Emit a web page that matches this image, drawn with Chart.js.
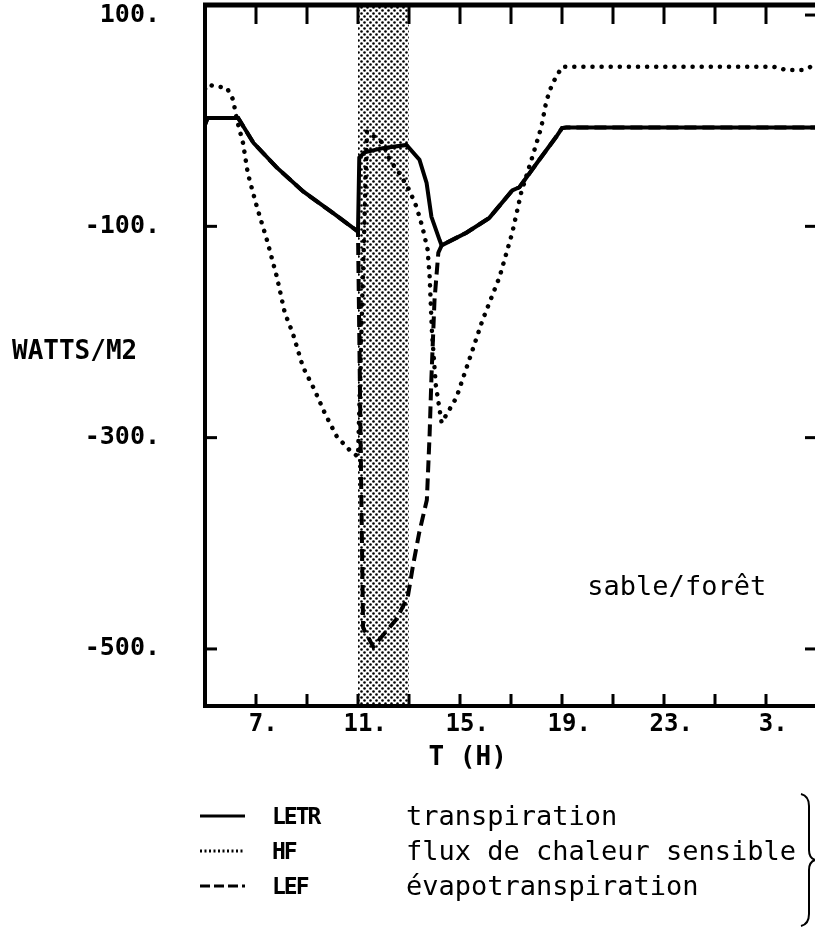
<!DOCTYPE html>
<html>
<head>
<meta charset="utf-8">
<script src="https://cdn.jsdelivr.net/npm/chart.js@4.4.0/dist/chart.umd.min.js"></script>
<style>
  html, body { margin: 0; padding: 0; background: #fff; overflow: hidden; }
  #wrap { position: relative; width: 815px; height: 930px; overflow: hidden; }
  #flux-chart { position: absolute; left: 0; top: 0; }
  #legend { position: absolute; left: 0; top: 0; width: 815px; height: 930px; pointer-events: none; }
  .row { position: absolute; left: 0; width: 815px; height: 36px; }
  .row svg { position: absolute; left: 198px; top: 15px; }
  .code { position: absolute; left: 272px; top: 0; font: bold 23px "DejaVu Sans Mono", monospace; letter-spacing: -2px; line-height: 36px; }
  .name { position: absolute; left: 406px; top: 0; font: 27px "DejaVu Sans Mono", monospace; line-height: 36px; white-space: pre; }
  #brace { position: absolute; left: 797px; top: 792px; }
</style>
</head>
<body>
<div id="wrap">
  <canvas id="flux-chart" width="830" height="930"></canvas>
  <div id="legend"></div>
</div>
<script>
// heures (T) et flux (W/m2)
const letrHours  = [5.0, 5.1, 6.3, 6.9, 7.8, 8.85, 10.0, 11.0, 11.05, 11.26, 11.97, 12.9, 13.41, 13.69, 13.88, 14.2, 14.28, 15.25, 16.15, 17.05, 17.33, 18.11, 18.78, 19.0, 19.17, 29.0];
const letrValues = [-4, 2.5, 2.5, -21, -44, -67, -87, -105, -35, -30, -26, -23, -37, -59, -91, -113, -118, -106, -92, -66, -63, -37, -15, -7, -6.5, -6.5];

const hfHours  = [5.0, 5.1, 5.86, 6.1, 6.25, 6.49, 6.68, 7.04, 7.43, 7.82, 8.13, 8.44, 8.84, 9.3, 9.7, 10.17, 10.68, 11.0, 11.35, 11.97, 12.24, 12.63, 13.02, 13.3, 13.53, 13.73, 13.81, 13.9, 14.05, 14.28, 14.86, 15.45, 15.88, 16.55, 17.05, 17.4, 17.84, 18.19, 18.39, 18.62, 19.0, 27.3, 27.8, 28.4, 29.0];
const hfValues = [30, 34, 31, 20, 1, -21, -50, -82, -113, -148, -182, -201, -233, -255, -277, -299, -312, -318, -10, -21, -37, -50, -66, -82, -101, -122, -148, -200, -250, -286, -262, -220, -189, -148, -106, -68, -34, -6, 19, 35, 51, 51, 48, 48, 53];

const lefHours  = [5.0, 5.1, 6.3, 6.9, 7.8, 8.85, 10.0, 11.0, 11.1, 11.2, 11.6, 12.5, 12.95, 13.15, 13.4, 13.7, 13.81, 13.88, 14.0, 14.15, 14.28, 15.25, 16.15, 17.05, 17.33, 18.11, 18.78, 19.0, 19.17, 29.0];
const lefValues = [-4, 2.5, 2.5, -21, -44, -67, -87, -105, -300, -480, -498, -472, -451, -422, -390, -359, -296, -243, -170, -125, -118, -106, -92, -66, -63, -37, -15, -7, -6.5, -6.5];

// période ombrée (h)
const bandHours = [11, 13];

const xTickHours  = [7, 9, 11, 13, 15, 17, 19, 21, 23, 25, 27];
const xLabelHours = [7, 11, 15, 19, 23, 27];
const yTickValues = [100, -100, -300, -500];

const legendCodes = ['LETR', 'HF', 'LEF'];
const legendNames = ['transpiration', 'flux de chaleur sensible', 'évapotranspiration'];

const yMin = -554, yMax = 109.5;
const mono = '"DejaVu Sans Mono", monospace';

const pts = (hs, vs) => hs.map((h, i) => ({ x: h, y: vs[i] }));

// trame en pointillé pour la bande 11h-13h
function dotPattern() {
  const c = document.createElement('canvas');
  c.width = 6; c.height = 6;
  const g = c.getContext('2d');
  g.fillStyle = '#000';
  g.beginPath(); g.arc(1.5, 1.5, 1.3, 0, Math.PI * 2); g.fill();
  g.beginPath(); g.arc(4.5, 4.5, 1.3, 0, Math.PI * 2); g.fill();
  return document.createElement('canvas').getContext('2d').createPattern(c, 'repeat');
}

const framePlugin = {
  id: 'frame',
  afterDraw(chart) {
    const { ctx, chartArea: a, scales: { x, y } } = chart;
    ctx.save();
    ctx.strokeStyle = '#000';
    ctx.lineWidth = 5;
    ctx.beginPath(); ctx.moveTo(a.left - 2, a.top); ctx.lineTo(a.right, a.top); ctx.stroke();

    ctx.lineWidth = 3;
    xTickHours.forEach(h => {
      const px = x.getPixelForValue(h);
      ctx.beginPath(); ctx.moveTo(px, a.top); ctx.lineTo(px, a.top + 19); ctx.stroke();
      ctx.beginPath(); ctx.moveTo(px, a.bottom); ctx.lineTo(px, a.bottom - 12); ctx.stroke();
    });
    yTickValues.forEach((v, i) => {
      const py = y.getPixelForValue(v);
      if (i > 0) {
        ctx.beginPath(); ctx.moveTo(a.left, py); ctx.lineTo(a.left + 12, py); ctx.stroke();
      }
      ctx.beginPath(); ctx.moveTo(a.right, py); ctx.lineTo(a.right - 12, py); ctx.stroke();
    });

    ctx.fillStyle = '#000';
    ctx.textBaseline = 'middle';
    ctx.textAlign = 'left';
    ctx.font = 'bold 26px ' + mono;
    ctx.fillText('WATTS/M2', 12, y.getPixelForValue(-219));
    ctx.textAlign = 'center';
    ctx.fillText('T (H)', x.getPixelForValue(15.3), a.bottom + 52);

    ctx.font = '27px ' + mono;
    ctx.fillText('sable/forêt', x.getPixelForValue(23.5), y.getPixelForValue(-442));
    ctx.restore();
  }
};

const ctx = document.getElementById('flux-chart').getContext('2d');
const chart = new Chart(ctx, {
  type: 'line',
  data: {
    datasets: [
      {
        label: 'LETR',
        data: pts(letrHours, letrValues),
        borderColor: '#000',
        borderWidth: 4,
        pointRadius: 0,
        tension: 0
      },
      {
        label: 'HF',
        data: pts(hfHours, hfValues),
        borderColor: '#000',
        borderWidth: 4.5,
        borderDash: [0.1, 9],
        borderCapStyle: 'round',
        pointRadius: 0,
        tension: 0
      },
      {
        label: 'LEF',
        data: pts(lefHours, lefValues),
        borderColor: '#000',
        borderWidth: 4,
        borderDash: [12, 6],
        pointRadius: 0,
        tension: 0
      },
      {
        label: 'bande',
        data: bandHours.map(h => ({ x: h, y: yMax })),
        borderWidth: 0,
        pointRadius: 0,
        backgroundColor: dotPattern(),
        fill: 'start'
      }
    ]
  },
  options: {
    responsive: false,
    animation: false,
    devicePixelRatio: 1,
    layout: { padding: { top: 5, right: 13, left: 0, bottom: 0 } },
    plugins: { legend: { display: false }, tooltip: { enabled: false } },
    scales: {
      x: {
        type: 'linear',
        min: 5,
        max: 29,
        afterFit: s => { s.height = 224; s.paddingLeft = 0; s.paddingRight = 0; },
        afterBuildTicks: s => { s.ticks = xTickHours.map(v => ({ value: v })); },
        grid: { drawOnChartArea: false, drawTicks: false },
        border: { color: '#000', width: 4 },
        ticks: {
          padding: 4,
          color: '#000',
          font: { family: mono, size: 24, weight: 'bold' },
          maxRotation: 0,
          autoSkip: false,
          callback: v => xLabelHours.includes(v) ? ' ' + (v % 24) + '.' : ''
        }
      },
      y: {
        min: yMin,
        max: yMax,
        afterFit: s => { s.width = 205; s.paddingTop = 0; s.paddingBottom = 0; },
        afterBuildTicks: s => { s.ticks = yTickValues.map(v => ({ value: v })); },
        grid: { drawOnChartArea: false, drawTicks: false },
        border: { color: '#000', width: 4 },
        ticks: {
          padding: 45,
          color: '#000',
          font: { family: mono, size: 25, weight: 'bold' },
          callback: v => v + '.'
        }
      }
    }
  },
  plugins: [framePlugin]
});

// légende sous le graphique
const legend = document.getElementById('legend');
const rowTops = [798, 833, 868];
const dashes = ['', '2 2.5', '10 4'];
legendCodes.forEach((code, i) => {
  const row = document.createElement('div');
  row.className = 'row';
  row.style.top = rowTops[i] + 'px';
  row.innerHTML =
    '<svg width="50" height="6"><line x1="2" y1="3" x2="47" y2="3" stroke="#000" stroke-width="3"' +
    (dashes[i] ? ' stroke-dasharray="' + dashes[i] + '"' : '') + '/></svg>' +
    '<span class="code">' + code + '</span><span class="name">' + legendNames[i] + '</span>';
  legend.appendChild(row);
});
legend.insertAdjacentHTML('beforeend',
  '<svg id="brace" width="20" height="136"><path d="M4 2 Q12 4 12 14 L12 58 Q12 66 18 68 Q12 70 12 78 L12 122 Q12 132 4 134" fill="none" stroke="#000" stroke-width="2"/></svg>');
</script>
</body>
</html>
